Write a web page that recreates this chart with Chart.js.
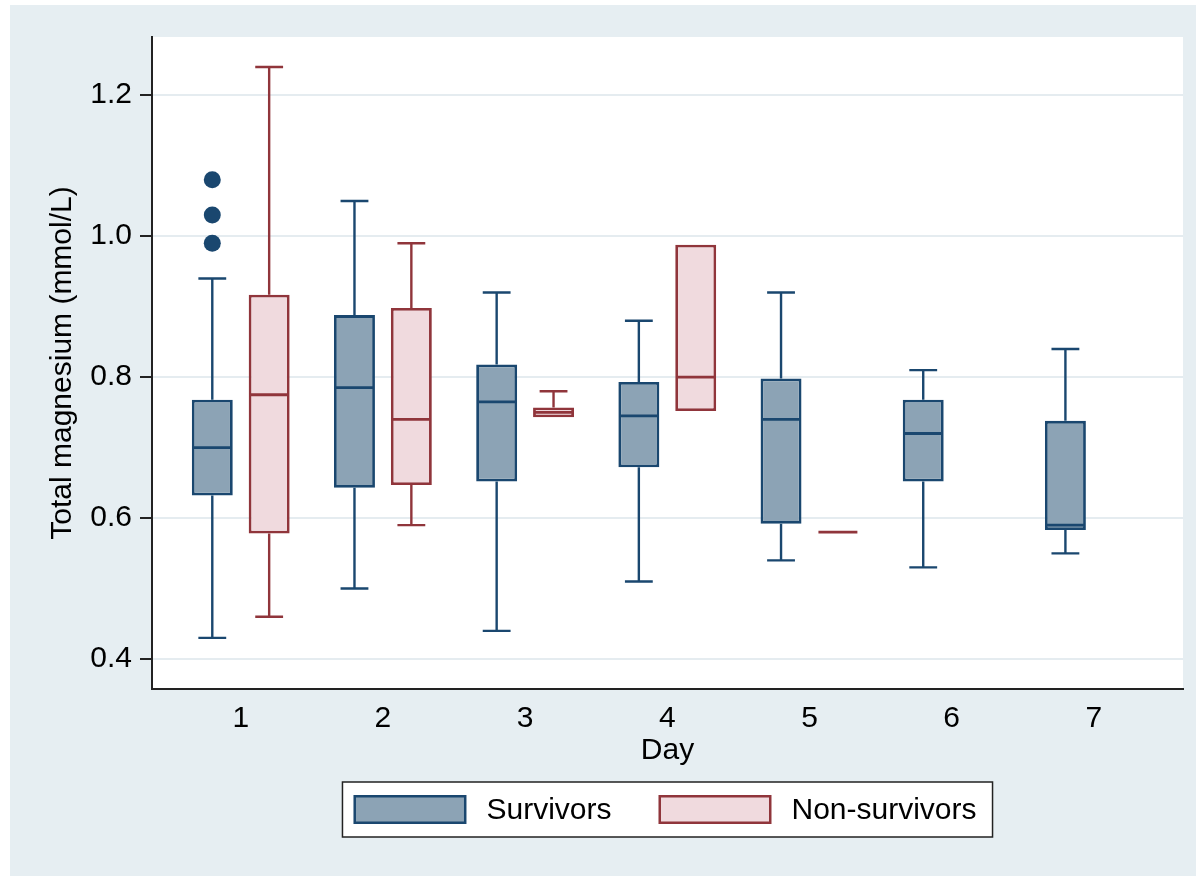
<!DOCTYPE html>
<html>
<head>
<meta charset="utf-8">
<script src="https://cdn.jsdelivr.net/npm/chart.js@4.4.0/dist/chart.umd.min.js"></script>
<style>
    html, body { margin: 0; padding: 0; background: #fff; }
    #wrap { position: absolute; left: 10px; top: 5px; width: 1186px; height: 871px; background: #e6eef2; }
</style>
</head>
<body>
<div id="wrap"><canvas id="chart" width="1186" height="871"></canvas></div>
<script>
const days = [1, 2, 3, 4, 5, 6, 7];
const yTicks = [0.4, 0.6, 0.8, 1.0, 1.2];

// Survivors, days 1-7
const survLow  = [0.43, 0.50, 0.44, 0.51, 0.54, 0.53, 0.55];
const survQ1   = [0.632, 0.643, 0.652, 0.672, 0.592, 0.652, 0.583];
const survMed  = [0.70, 0.785, 0.765, 0.745, 0.74, 0.72, 0.59];
const survQ3   = [0.768, 0.888, 0.818, 0.793, 0.798, 0.768, 0.738];
const survHigh = [0.94, 1.05, 0.92, 0.88, 0.92, 0.81, 0.84];
const survOut  = [[0.99, 1.03, 1.08], [], [], [], [], [], []];

// Non-survivors, days 1-5
const nonDays = [1, 2, 3, 4, 5];
const nonLow  = [0.46, 0.59, 0.743, 0.752, 0.58];
const nonQ1   = [0.578, 0.647, 0.743, 0.752, 0.58];
const nonMed  = [0.775, 0.74, 0.75, 0.80, 0.58];
const nonQ3   = [0.917, 0.898, 0.757, 0.988, 0.58];
const nonHigh = [1.24, 0.99, 0.78, 0.988, 0.58];
const nonOut  = [[], [], [], [], []];

const groups = [
    { lo: survLow, q1: survQ1, med: survMed, q3: survQ3, hi: survHigh, out: survOut },
    { lo: nonLow, q1: nonQ1, med: nonMed, q3: nonQ3, hi: nonHigh, out: nonOut }
];

const FONT = '"Liberation Sans", Arial, Helvetica, sans-serif';
Chart.defaults.font.family = FONT;
Chart.defaults.font.size = 30;
Chart.defaults.color = '#000';

// white plot region
const plotBg = {
    id: 'plotBg',
    beforeDraw(chart) {
        const a = chart.chartArea, ctx = chart.ctx;
        ctx.save();
        ctx.fillStyle = '#fff';
        ctx.fillRect(a.left, a.top, a.right - a.left, a.bottom - a.top);
        ctx.restore();
    }
};

// whiskers, medians and outside values on top of the floating bars
const boxExtras = {
    id: 'boxExtras',
    afterDatasetsDraw(chart) {
        const ctx = chart.ctx, y = chart.scales.y;
        chart.data.datasets.forEach((ds, i) => {
            const g = groups[i];
            chart.getDatasetMeta(i).data.forEach((bar, j) => {
                const cx = bar.x, w = bar.width, cap = w * 0.68;
                ctx.save();
                ctx.strokeStyle = ds.borderColor;
                ctx.lineWidth = 2.4;
                [[g.q3[j], g.hi[j]], [g.q1[j], g.lo[j]]].forEach(function (p) {
                    if (p[0] === p[1]) return;
                    const y0 = y.getPixelForValue(p[0]), y1 = y.getPixelForValue(p[1]);
                    ctx.beginPath();
                    ctx.moveTo(cx, y0);
                    ctx.lineTo(cx, y1);
                    ctx.moveTo(cx - cap / 2, y1);
                    ctx.lineTo(cx + cap / 2, y1);
                    ctx.stroke();
                });
                ctx.lineWidth = 2.8;
                const ym = y.getPixelForValue(g.med[j]);
                ctx.beginPath();
                ctx.moveTo(cx - w / 2 + 1, ym);
                ctx.lineTo(cx + w / 2 - 1, ym);
                ctx.stroke();
                ctx.fillStyle = ds.borderColor;
                (g.out[j] || []).forEach(function (v) {
                    ctx.beginPath();
                    ctx.arc(cx, y.getPixelForValue(v), 8.5, 0, Math.PI * 2);
                    ctx.fill();
                });
                ctx.restore();
            });
        });
    }
};

// framed legend under the plot, centred on the plot region
const boxLegend = {
    id: 'boxLegend',
    afterDraw(chart) {
        const ctx = chart.ctx, a = chart.chartArea;
        const sw = 113, sh = 29, padL = 11, padR = 16, gapT = 20, gapItem = 47;
        ctx.save();
        ctx.font = '30px ' + FONT;
        const items = chart.data.datasets;
        const widths = items.map(ds => ctx.measureText(ds.label).width);
        let total = padL + padR + gapItem * (items.length - 1);
        widths.forEach(w => { total += sw + gapT + w; });
        const left = (a.left + a.right) / 2 - total / 2;
        const top = chart.scales.x.bottom + 8, h = 55;
        ctx.fillStyle = '#fff';
        ctx.fillRect(left, top, total, h);
        ctx.strokeStyle = '#222';
        ctx.lineWidth = 1.5;
        ctx.strokeRect(left, top, total, h);
        let x = left + padL;
        const cy = top + h / 2;
        items.forEach((ds, i) => {
            ctx.fillStyle = ds.borderColor;
            ctx.fillRect(x, cy - sh / 2, sw, sh);
            ctx.fillStyle = ds.backgroundColor;
            ctx.fillRect(x + 2.5, cy - sh / 2 + 2.5, sw - 5, sh - 5);
            x += sw + gapT;
            ctx.fillStyle = '#000';
            ctx.textBaseline = 'middle';
            ctx.textAlign = 'left';
            ctx.fillText(ds.label, x, cy + 1);
            x += widths[i] + gapItem;
        });
        ctx.restore();
    }
};

new Chart(document.getElementById('chart'), {
    type: 'bar',
    data: {
        datasets: [
            {
                label: 'Survivors',
                data: days.map((d, i) => ({ x: d, y: [survQ1[i], survQ3[i]] })),
                backgroundColor: '#8ca3b5',
                borderColor: '#1a476f',
                borderWidth: 2.8,
                borderSkipped: false
            },
            {
                label: 'Non-survivors',
                data: nonDays.map((d, i) => ({ x: d, y: [nonQ1[i], nonQ3[i]] })),
                backgroundColor: '#f0dade',
                borderColor: '#90353b',
                borderWidth: 2.8,
                borderSkipped: false
            }
        ]
    },
    options: {
        responsive: false,
        animation: false,
        categoryPercentage: 0.8,
        barPercentage: 0.72,
        layout: { padding: { left: 0, top: 32, right: 13, bottom: 102 } },
        scales: {
            x: {
                type: 'linear',
                offset: false,
                min: 0.376,
                max: 7.627,
                afterBuildTicks: function (scale) {
                    scale.ticks = days.map(v => ({ value: v }));
                },
                afterFit: function (scale) { scale.height = 85; },
                grid: { display: false, drawTicks: false },
                border: { display: true, color: '#222', width: 2 },
                ticks: { padding: 12, maxRotation: 0, callback: v => String(v) },
                title: { display: true, text: 'Day', padding: { top: 0, bottom: 5 } }
            },
            y: {
                min: 0.3575,
                max: 1.2826,
                afterBuildTicks: function (scale) {
                    scale.ticks = yTicks.map(v => ({ value: v }));
                },
                afterFit: function (scale) { scale.width = 142; },
                grid: { color: '#e5ecf0', lineWidth: 2, tickLength: 12, tickColor: '#222', tickWidth: 2 },
                border: { display: true, color: '#222', width: 2 },
                ticks: { padding: 8, callback: v => v.toFixed(1) },
                title: { display: true, text: 'Total magnesium (mmol/L)', padding: { top: 35, bottom: 0 } }
            }
        },
        plugins: {
            legend: { display: false },
            tooltip: { enabled: false }
        }
    },
    plugins: [plotBg, boxExtras, boxLegend]
});
</script>
</body>
</html>
